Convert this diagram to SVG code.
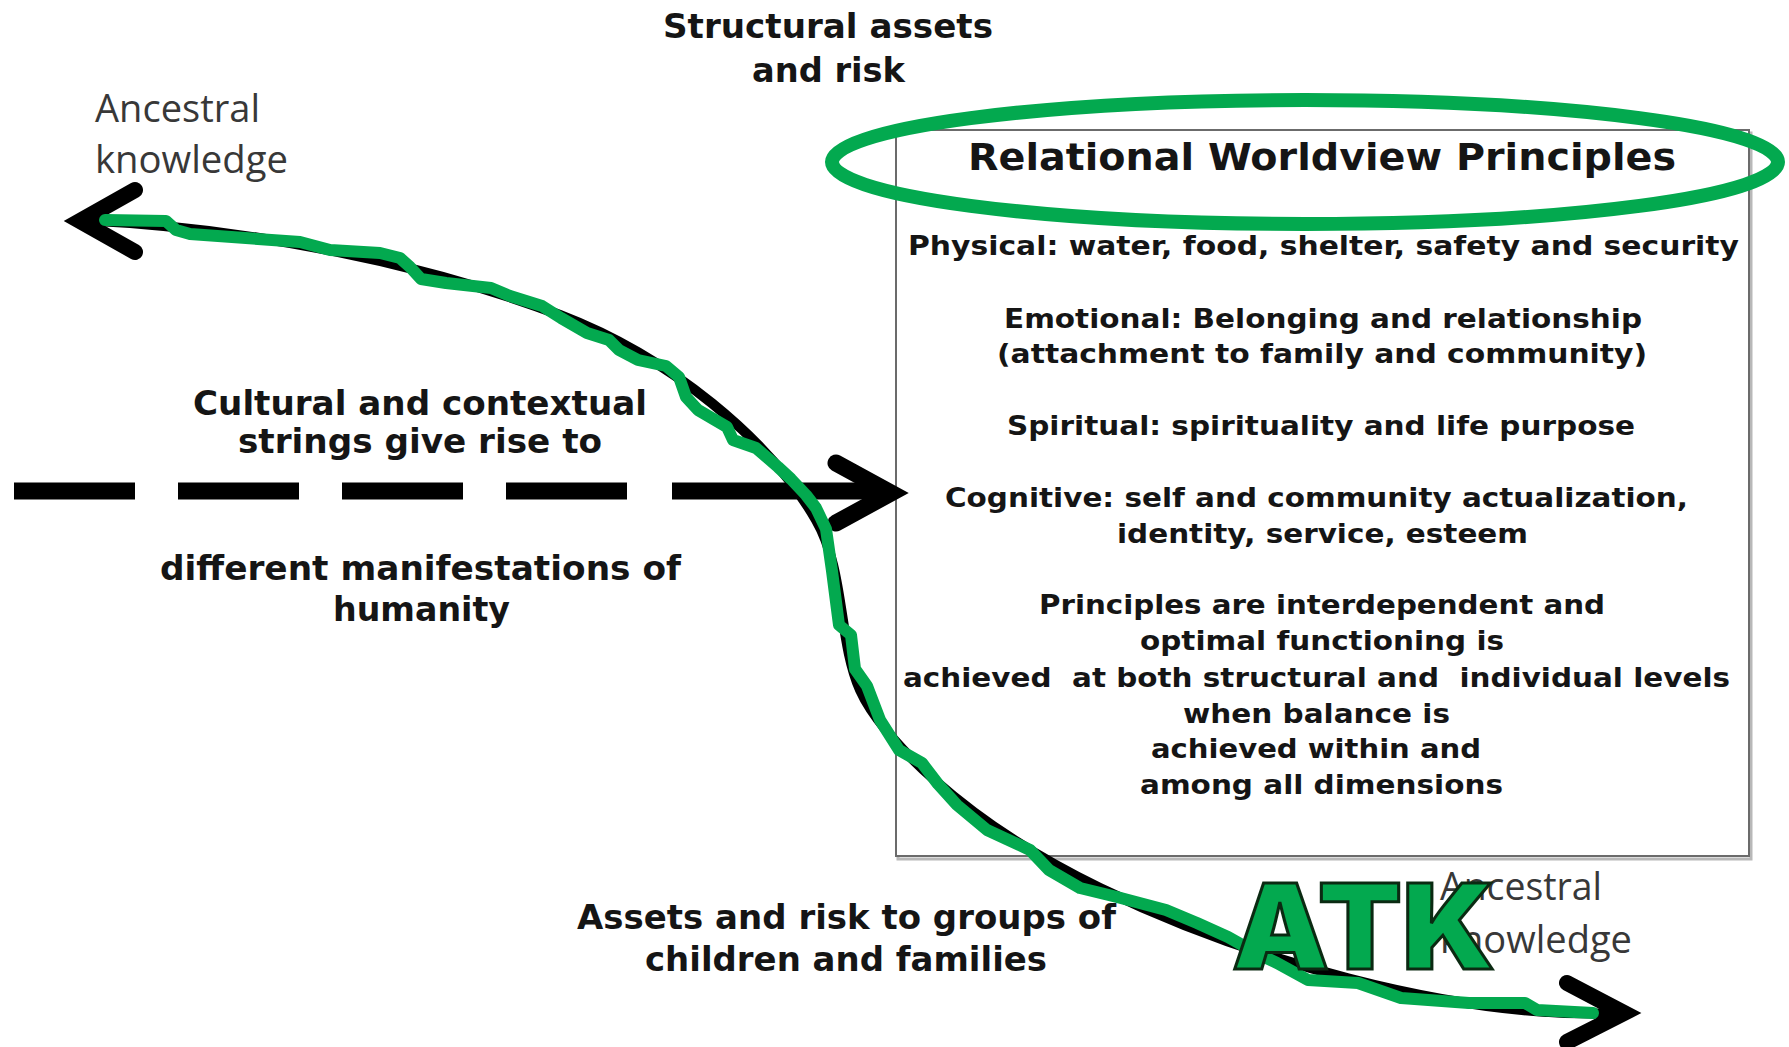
<svg xmlns="http://www.w3.org/2000/svg" width="1789" height="1047" viewBox="0 0 1789 1047">
<style>
.b{font-family:"DejaVu Sans","Liberation Sans",sans-serif;font-weight:bold;fill:#151515;}
.t{font-size:33px;}
.s{font-size:27px;}
.r{font-family:"Open Sans","Noto Sans","Liberation Sans",sans-serif;font-size:38px;fill:#383838;}
.blk{fill:none;stroke:#000;}
.rc{stroke-linecap:round;}
.bt{stroke-linecap:butt;}
.grn{fill:none;stroke:#03a94f;stroke-linecap:round;stroke-linejoin:round;}
.atk{font-family:Inter,Roboto,"Liberation Sans",Arial,sans-serif;font-weight:900;font-size:118px;fill:#03a94f;stroke:#0b2a12;stroke-width:3;stroke-linejoin:miter;}
</style>
<rect width="1789" height="1047" fill="#fff"/>

<g id="principles-box">
<rect x="898" y="133" width="853" height="726" fill="none" stroke="#b8b8b8" stroke-width="3"/>
<rect x="896" y="130" width="853" height="726" fill="#fff" stroke="#6b6b6b" stroke-width="2"/>
<text class="b" x="968" y="170" font-size="38" textLength="708" lengthAdjust="spacingAndGlyphs">Relational Worldview Principles</text>
<text class="b s" x="908" y="255" textLength="831" lengthAdjust="spacingAndGlyphs">Physical: water, food, shelter, safety and security</text>
<text class="b s" x="1004" y="328" textLength="638" lengthAdjust="spacingAndGlyphs">Emotional: Belonging and relationship</text>
<text class="b s" x="997" y="363" textLength="650" lengthAdjust="spacingAndGlyphs">(attachment to family and community)</text>
<text class="b s" x="1007" y="435" textLength="628" lengthAdjust="spacingAndGlyphs">Spiritual: spirituality and life purpose</text>
<text class="b s" x="945" y="507" textLength="743" lengthAdjust="spacingAndGlyphs">Cognitive: self and community actualization,</text>
<text class="b s" x="1117" y="543" textLength="411" lengthAdjust="spacingAndGlyphs">identity, service, esteem</text>
<text class="b s" x="1039" y="614" textLength="566" lengthAdjust="spacingAndGlyphs">Principles are interdependent and</text>
<text class="b s" x="1140" y="650" textLength="364" lengthAdjust="spacingAndGlyphs">optimal functioning is</text>
<text class="b s" x="903" y="687" textLength="827" lengthAdjust="spacingAndGlyphs" xml:space="preserve">achieved  at both structural and  individual levels</text>
<text class="b s" x="1183" y="723" textLength="267" lengthAdjust="spacingAndGlyphs">when balance is</text>
<text class="b s" x="1151" y="758" textLength="330" lengthAdjust="spacingAndGlyphs">achieved within and</text>
<text class="b s" x="1140" y="794" textLength="363" lengthAdjust="spacingAndGlyphs">among all dimensions</text>
</g>

<g id="labels">
<text class="b t" x="663" y="38" textLength="330" lengthAdjust="spacingAndGlyphs">Structural assets</text>
<text class="b t" x="752" y="82" textLength="153" lengthAdjust="spacingAndGlyphs">and risk</text>
<text class="r" x="95" y="122" textLength="165" lengthAdjust="spacingAndGlyphs">Ancestral</text>
<text class="r" x="95" y="173" textLength="193" lengthAdjust="spacingAndGlyphs">knowledge</text>
<text class="b t" x="193" y="415" textLength="454" lengthAdjust="spacingAndGlyphs">Cultural and contextual</text>
<text class="b t" x="238" y="453" textLength="364" lengthAdjust="spacingAndGlyphs">strings give rise to</text>
<text class="b t" x="160" y="580" textLength="521" lengthAdjust="spacingAndGlyphs">different manifestations of</text>
<text class="b t" x="333" y="621" textLength="177" lengthAdjust="spacingAndGlyphs">humanity</text>
<text class="b t" x="577" y="929" textLength="539" lengthAdjust="spacingAndGlyphs">Assets and risk to groups of</text>
<text class="b t" x="645" y="971" textLength="402" lengthAdjust="spacingAndGlyphs">children and families</text>
<text class="r" x="1440" y="900" textLength="162" lengthAdjust="spacingAndGlyphs">Ancestral</text>
<text class="r" x="1440" y="953" textLength="192" lengthAdjust="spacingAndGlyphs">knowledge</text>
</g>

<g id="connectors">
<path class="blk bt" d="M14,491 L628,491" stroke-width="17" stroke-dasharray="121 43"/>
<path class="blk bt" d="M672,491 L885,491" stroke-width="17"/>
<path class="blk rc" d="M836,463 L891,493 L836,523" stroke-width="17" stroke-linejoin="miter"/>
<path class="blk rc" d="M80,220 C250,228 420,262 560,315 C670,357 770,440 816,520 C845,570 838,640 860,690 C880,735 960,820 1100,888 C1240,956 1450,1020 1622,1013" stroke-width="10"/>
<path class="blk rc" d="M135,190 L80,221 L135,252" stroke-width="16" stroke-linejoin="miter"/>
<path class="blk rc" d="M1567,983 L1624,1013 L1567,1042" stroke-width="16" stroke-linejoin="miter"/>
</g>

<g id="annotations">
<ellipse cx="1305" cy="162" rx="473" ry="62" fill="none" stroke="#03a94f" stroke-width="14"/>
<path class="grn" stroke-width="12" d="M105,220 L166,221 L176,230 L190,234 L300,242 L330,250 L380,253 L400,258 L410,267 L421,279 L446,283 L491,288 L510,296 L542,306 L561,318 L587,333 L609,340 L619,350 L638,360 L666,366 L679,377 L686,397 L698,410 L727,427 L733,440 L756,448 L778,467 L791,479 L806,495 L816,508 L826,529 L832,571 L839,625 L851,635 L855,669 L867,686 L880,720 L899,750 L922,763 L938,784 L957,805 L987,830 L1030,850 L1049,870 L1080,888 L1117,897 L1166,910 L1197,923 L1228,937 L1260,955 L1277,963 L1308,980 L1358,983 L1401,998 L1469,1003 L1525,1003 L1537,1010 L1593,1013"/>
<text class="atk" x="1232" y="969" textLength="263" lengthAdjust="spacingAndGlyphs">ATK</text>
</g>
</svg>
